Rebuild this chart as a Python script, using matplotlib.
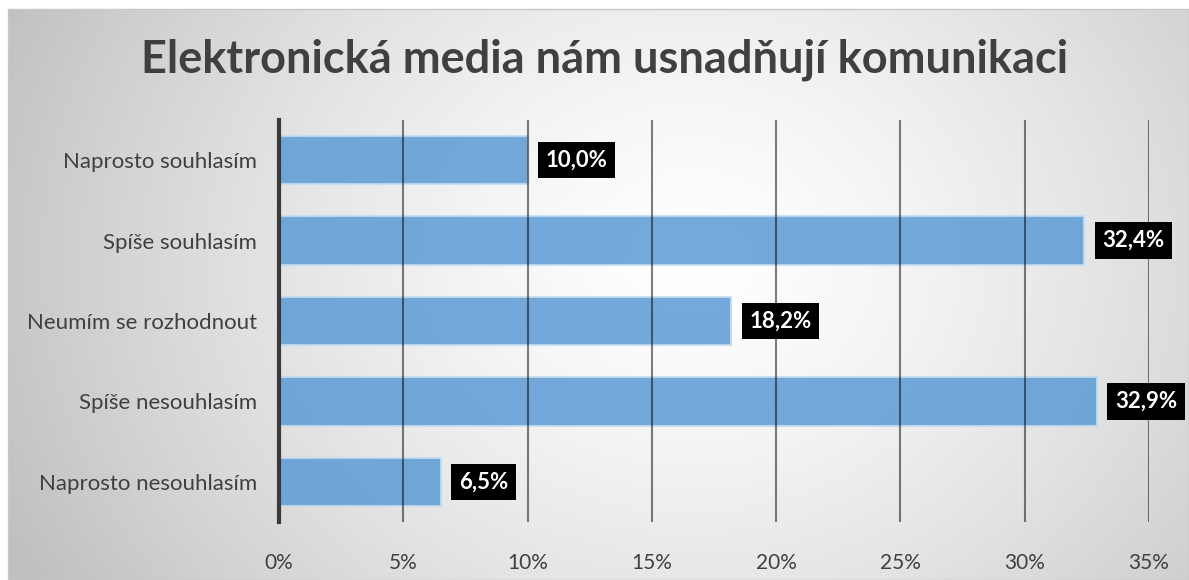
import matplotlib.pyplot as plt
import numpy as np

categories = ["Naprosto souhlasím", "Spíše souhlasím", "Neumím se rozhodnout",
              "Spíše nesouhlasím", "Naprosto nesouhlasím"]
values = [10.0, 32.4, 18.2, 32.9, 6.5]
xticks = [0, 5, 10, 15, 20, 25, 30, 35]

plt.rcParams['font.family'] = ['Lato', 'DejaVu Sans']

W, H = 1189, 580
fig = plt.figure(figsize=(W / 100, H / 100), dpi=100)

# radial gradient background inside the chart frame
bg = fig.add_axes([8 / W, 0, 1 - 8 / W, 1 - 9 / H], zorder=-10)
yy, xx = np.mgrid[9:H, 8:W]
r = np.sqrt(((xx - 690) / 1.0) ** 2 + ((yy - 260) / 0.85) ** 2)
v = 1 - 0.25 * np.clip(r / 760, 0, 1) ** 1.4
bg.imshow(np.dstack([v, v, v]), aspect='auto', extent=[0, 1, 0, 1], origin='upper')
bg.set_xticks([])
bg.set_yticks([])
for s in bg.spines.values():
    s.set_color('#c8c8c8')
    s.set_linewidth(1)

ax = fig.add_axes([279 / W, 1 - 522 / H, (1149 - 279) / W, (522 - 120) / H])
ax.patch.set_alpha(0)

y = np.arange(len(categories))
ax.barh(y, values, height=0.6, color='#5b9bd5', alpha=0.85,
        edgecolor='#c5dcf0', linewidth=1.5, zorder=2)

ax.set_xlim(0, 35)
ax.set_ylim(len(categories) - 0.5, -0.5)
ax.set_xticks(xticks)
ax.set_xticklabels([f"{t}%" for t in xticks], fontsize=15, color='#404040')
ax.set_yticks(y)
ax.set_yticklabels(categories, fontsize=16, color='#404040')
ax.tick_params(axis='x', length=0, pad=22)
ax.tick_params(axis='y', length=0, pad=16)

ax.grid(axis='x', color='black', alpha=0.5, linewidth=1.5, zorder=3)
ax.set_axisbelow(False)
for s in ['top', 'right', 'bottom']:
    ax.spines[s].set_visible(False)
ax.spines['left'].set_color('#3a3a3a')
ax.spines['left'].set_linewidth(3)
ax.spines['left'].set_zorder(4)

for yi, val in zip(y, values):
    ax.annotate(f"{val:.1f}%".replace('.', ','), (val, yi), xytext=(13, 0),
                textcoords='offset points', va='center', ha='left',
                fontsize=16, fontweight='bold', color='white', zorder=5,
                bbox=dict(boxstyle='square,pad=0.35', fc='black', ec='none'))

fig.text(605 / W, 1 - 60 / H, "Elektronická media nám usnadňují komunikaci",
         ha='center', va='center', fontsize=32.5, fontweight='bold', color='#404040')

fig.savefig('out.png', dpi=100)
